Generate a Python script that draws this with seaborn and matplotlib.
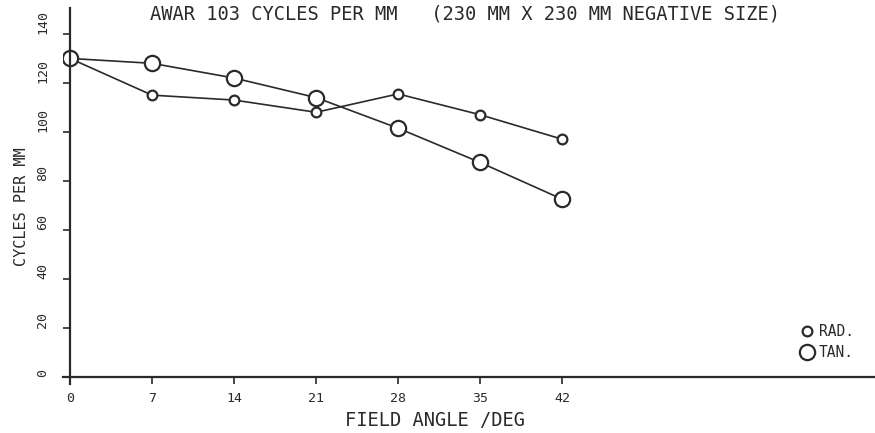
import matplotlib
matplotlib.use("Agg")
import matplotlib.pyplot as plt
import seaborn as sns
import pandas as pd

field_angle = [0, 7, 14, 21, 28, 35, 42]
rad_values = [130, 115, 113, 108, 115.5, 107, 97]
tan_values = [130, 128, 122, 114, 101.5, 87.5, 72.5]
x_ticks = [0, 7, 14, 21, 28, 35, 42]
y_ticks = [0, 20, 40, 60, 80, 100, 120, 140]
title = "AWAR 103 CYCLES PER MM   (230 MM X 230 MM NEGATIVE SIZE)"

sns.set_theme(style="white")
plt.rcParams['font.family'] = ['DejaVu Sans Mono']

fig = plt.figure(figsize=(8.75, 4.33), dpi=100)
ax = fig.add_axes([63/875, (433-384)/433, (875-63)/875, (384-8)/433])

ink = "#2a2a2a"
df_rad = pd.DataFrame({"angle": field_angle, "val": rad_values})
df_tan = pd.DataFrame({"angle": field_angle, "val": tan_values})
sns.lineplot(data=df_rad, x="angle", y="val", ax=ax, color=ink, lw=1.2,
             marker="o", markersize=7, markerfacecolor="white",
             markeredgecolor=ink, markeredgewidth=1.6, label="RAD.")
sns.lineplot(data=df_tan, x="angle", y="val", ax=ax, color=ink, lw=1.2,
             marker="o", markersize=11, markerfacecolor="white",
             markeredgecolor=ink, markeredgewidth=1.6, label="TAN.")

ax.set_xlim(-0.6, 68.7)
ax.set_ylim(-3, 150.6)
for s in ["top", "right"]:
    ax.spines[s].set_visible(False)
for s in ["left", "bottom"]:
    ax.spines[s].set_position(("data", 0))
    ax.spines[s].set_color(ink)
    ax.spines[s].set_linewidth(1.6)
ax.spines["left"].set_bounds(-3, 150.6)
ax.spines["bottom"].set_bounds(-0.6, 68.7)

ax.set_xticks(x_ticks)
ax.set_xticklabels([str(v) for v in x_ticks])
ax.set_yticks(y_ticks)
ax.set_yticklabels([str(v) for v in y_ticks], rotation=90, va="bottom")
ax.tick_params(axis="both", which="major", direction="out", length=5,
               width=1.2, color=ink, labelsize=9.5, labelcolor=ink,
               left=True, bottom=True)
ax.tick_params(axis="x", pad=6)
ax.tick_params(axis="y", pad=10)

ax.set_xlabel("")
ax.set_ylabel("")
fig.text(435/875, 1 - 421/433, "FIELD ANGLE /DEG", ha="center", va="center",
         fontsize=13.5, color=ink)
fig.text(22/875, 1 - 207/433, "CYCLES PER MM", ha="center", va="center",
         rotation=90, fontsize=11, color=ink)
fig.text(465/875, 1 - 14/433, title, ha="center", va="center",
         fontsize=13.5, color=ink)

ax.legend(loc="center left", bbox_to_anchor=(800/875, 1 - 342/433),
          bbox_transform=fig.transFigure, frameon=False, handlelength=0,
          handletextpad=0.8, fontsize=10.5, labelspacing=0.4,
          labelcolor=ink, borderpad=0)

fig.savefig("out.png", dpi=100, facecolor="white")
